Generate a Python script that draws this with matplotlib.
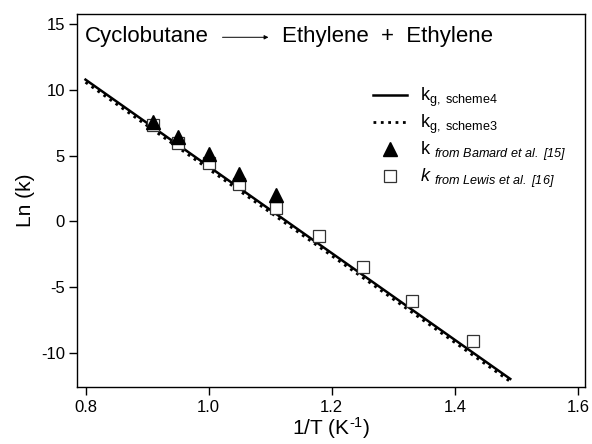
import numpy as np
import matplotlib.pyplot as plt

plt.rcParams['font.family'] = ['Liberation Sans', 'DejaVu Sans']
plt.rcParams['mathtext.fontset'] = 'custom'
plt.rcParams['mathtext.rm'] = 'Liberation Sans'
plt.rcParams['mathtext.it'] = 'Liberation Sans:italic'
plt.rcParams['mathtext.bf'] = 'Liberation Sans:italic'
plt.rcParams['axes.unicode_minus'] = False

# fitted lines (end points)
line_x = [0.80, 1.49]
scheme4_y = [10.8, -12.0]
scheme3_y = [10.6, -12.2]

# Barnard et al. [15]
barnard_x = [0.91, 0.95, 1.00, 1.05, 1.11]
barnard_y = [7.6, 6.4, 5.1, 3.6, 2.0]

# Lewis et al. [16]
lewis_x = [0.91, 0.95, 1.00, 1.05, 1.11, 1.18, 1.25, 1.33, 1.43]
lewis_y = [7.35, 6.0, 4.45, 2.85, 1.0, -1.1, -3.45, -6.1, -9.1]

xticks = [0.8, 1.0, 1.2, 1.4, 1.6]
yticks = [-10, -5, 0, 5, 10, 15]

fig = plt.figure(figsize=(5.92, 4.44), dpi=100)
ax = fig.add_axes([0.1306, 0.1273, 0.8576, 0.8412])

ax.plot(line_x, scheme4_y, '-', color='black', lw=1.8,
        label=r'k$_{\mathrm{g,\ scheme4}}$')
ax.plot(line_x, scheme3_y, ':', color='black', lw=2.0,
        label=r'k$_{\mathrm{g,\ scheme3}}$')
ax.plot(lewis_x, lewis_y, 's', mfc='white', mec='#333333', mew=0.9, ms=9,
        ls='none', label=r'$\mathit{k}$ $_{\mathbf{from\ Lewis\ et\ al.\ [16]}}$')
ax.plot(barnard_x, barnard_y, '^', color='black', ms=10, ls='none',
        label=r'k $_{\mathbf{from\ Bamard\ et\ al.\ [15]}}$')

ax.set_xlim(0.7867, 1.6114)
ax.set_ylim(-12.65, 15.8)
ax.set_xticks(xticks)
ax.set_xticklabels(['0.8', '1.0', '1.2', '1.4', '1.6'])
ax.set_yticks(yticks)
ax.tick_params(direction='out', length=6, width=1.0, labelsize=12, pad=3)
for s in ax.spines.values():
    s.set_linewidth(1.0)

ax.set_xlabel('1/T (K$^{\u2010\\mathrm{1}}$)', fontsize=15, labelpad=0)
ax.set_ylabel('Ln (k)', fontsize=15, labelpad=4)

# reaction text
ax.text(0.015, 0.925, 'Cyclobutane', transform=ax.transAxes, fontsize=16,
        va='baseline', ha='left')
ax.annotate('', xy=(0.382, 0.9376), xytext=(0.2805, 0.9376),
            xycoords='axes fraction',
            arrowprops=dict(arrowstyle='-|>', lw=0.7, color='black',
                            mutation_scale=6))
ax.text(0.403, 0.925, 'Ethylene  +  Ethylene', transform=ax.transAxes,
        fontsize=16, va='baseline', ha='left')

handles, labels = ax.get_legend_handles_labels()
order = [0, 1, 3, 2]
ax.legend([handles[i] for i in order], [labels[i] for i in order],
          loc='upper left', bbox_to_anchor=(0.55, 0.85), frameon=False,
          fontsize=13, handlelength=1.9, labelspacing=0.2, handletextpad=0.7)

fig.savefig('out.png', dpi=100)
